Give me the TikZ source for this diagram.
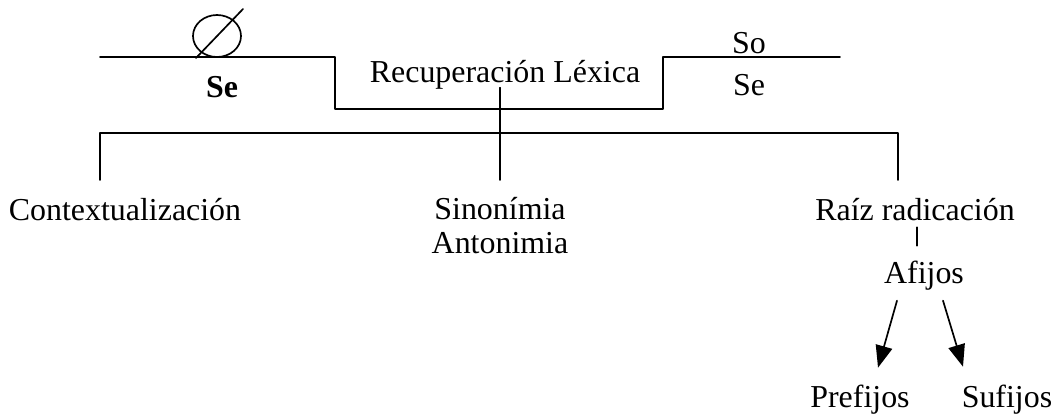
\documentclass[tikz,border=0pt]{standalone}
\usepackage{fontspec}
\setmainfont{Liberation Serif}
\usetikzlibrary{arrows.meta,shapes.geometric}

\tikzset{
    txt/.style={font=\fontsize{22.7}{23.5}\selectfont, inner sep=0.15cm, anchor=base},
    flecha/.style={-{Triangle[length=0.55cm,width=0.42cm]}}
}

\begin{document}
\begin{tikzpicture}[line cap=round,line join=round,line width=1.2pt,x=0.025cm,y=-0.025cm]
        \useasboundingbox (0,0) rectangle (1058,417);
        % escalon superior
        \draw (100,57) -- (335,57) -- (335,109) -- (663,109) -- (663,57) -- (840,57);
        \node[draw,ellipse,inner sep=0pt,minimum width=1.2cm,minimum height=1.05cm] (vacio) at (217,36) {};
        \draw ([shift={(-21,22)}]vacio.center) -- ([shift={(26,-27)}]vacio.center);
        \node[txt,font=\fontsize{22.7}{23.5}\selectfont\bfseries] (se1) at (222,97) {Se};
        \node[txt] (rec) at (505,82) {Recuperación Léxica};
        \node[txt] (so) at (749,53) {So};
        \node[txt] (se2) at (749,95) {Se};
        % ramas
        \node[txt] (ctx) at (125,220) {Contextualización};
        \node[txt,align=center] (sin) at (500,253) {Sinonímia\\Antonimia};
        \node[txt] (raiz) at (915,220) {Raíz radicación};
        \node[txt] (afi) at (924,283) {Afijos};
        \node[txt] (pre) at (860,407) {Prefijos};
        \node[txt] (suf) at (1007,407) {Sufijos};
        \coordinate (brI) at (100,180);
        \coordinate (brC) at (500,133);
        \coordinate (brD) at (898,180);
        \draw (brI) |- (brC) -| (brD);
        \draw ([yshift=0.2cm]rec.south -| brC) -- (brC |- brI);
        \draw ([xshift=0.05cm]raiz.south) -- ([xshift=-0.175cm,yshift=0.2cm]afi.north);
        \draw[flecha] ([xshift=-0.675cm,yshift=-0.1cm]afi.south) -- ([xshift=0.45cm,yshift=0.25cm]pre.north);
        \draw[flecha] ([xshift=0.475cm,yshift=-0.1cm]afi.south) -- ([xshift=-1.1cm,yshift=0.275cm]suf.north);
    \end{tikzpicture}
\end{document}
